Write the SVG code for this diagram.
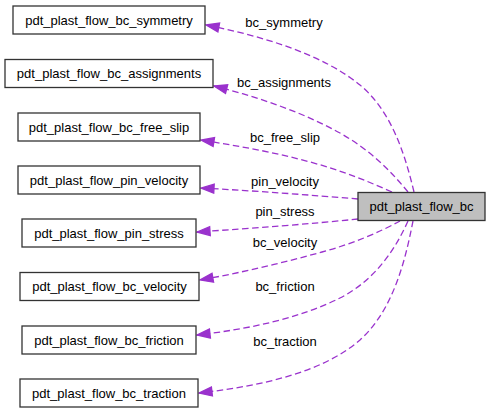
<svg xmlns="http://www.w3.org/2000/svg" width="491" height="413" viewBox="0 0 491 413">
<style>
.node rect{fill:#ffffff;stroke:#333333;stroke-width:1.3}
#main rect{fill:#bfbfbf}
.node text,.lbl text{font-family:"Liberation Sans",Arial,sans-serif;font-size:13px;fill:#000;text-anchor:middle}
.edge{fill:none;stroke:#9a32cd;stroke-width:1.3;stroke-dasharray:6.5,3.5;marker-end:url(#arr)}
</style>
<defs>
<marker id="arr" markerUnits="userSpaceOnUse" markerWidth="16" markerHeight="12" refX="13" refY="5" orient="auto" overflow="visible">
<path d="M0,0.5 L13,5 L0,9.5 z" fill="#9a32cd" stroke="#9a32cd" stroke-width="1.3"/>
</marker>
</defs>
<rect width="491" height="413" fill="#ffffff"/>
<g id="connectors">
<path class="edge" d="M414,192 C404,150 390,110 360,85 C322,54 262,36 206,25"/>
<path class="edge" d="M408,192 C390,170 370,150 340,133 C302,112 258,97 214,86"/>
<path class="edge" d="M392,192 C365,180 340,170 310,162 C274,152 238,146 201,140"/>
<path class="edge" d="M358,199 C310,195 258,191 201,188"/>
<path class="edge" d="M358,219 C310,224 256,228 197,232"/>
<path class="edge" d="M400,221 C380,232 352,244 322,252 C282,263 240,273 200,280"/>
<path class="edge" d="M408,221 C395,250 375,280 340,298 C300,318 250,329 197,335"/>
<path class="edge" d="M413,221 C405,262 393,310 360,340 C322,373 260,386 199,393"/>
</g>
<g class="lbl" id="edge-labels">
<text x="284" y="27">bc_symmetry</text>
<text x="284" y="87">bc_assignments</text>
<text x="285" y="142">bc_free_slip</text>
<text x="285" y="186">pin_velocity</text>
<text x="285" y="216">pin_stress</text>
<text x="285" y="247">bc_velocity</text>
<text x="285" y="291">bc_friction</text>
<text x="285" y="346">bc_traction</text>
</g>
<g class="node" id="main"><rect x="358" y="192.5" width="127" height="28"/><text x="421.5" y="211">pdt_plast_flow_bc</text></g>
<g class="node" id="symmetry"><rect x="13" y="6" width="192" height="28"/><text x="109" y="24.5">pdt_plast_flow_bc_symmetry</text></g>
<g class="node" id="assignments"><rect x="5" y="59.5" width="208" height="28"/><text x="109" y="78">pdt_plast_flow_bc_assignments</text></g>
<g class="node" id="free_slip"><rect x="18" y="113" width="182" height="28"/><text x="109" y="131.5">pdt_plast_flow_bc_free_slip</text></g>
<g class="node" id="pin_velocity"><rect x="18" y="166" width="182" height="28"/><text x="109" y="184.5">pdt_plast_flow_pin_velocity</text></g>
<g class="node" id="pin_stress"><rect x="22" y="219" width="174" height="28"/><text x="109" y="237.5">pdt_plast_flow_pin_stress</text></g>
<g class="node" id="bc_velocity"><rect x="20" y="272.5" width="179" height="28"/><text x="109.5" y="291">pdt_plast_flow_bc_velocity</text></g>
<g class="node" id="friction"><rect x="22" y="326" width="174" height="28"/><text x="109" y="344.5">pdt_plast_flow_bc_friction</text></g>
<g class="node" id="traction"><rect x="20" y="379" width="178" height="28"/><text x="109" y="397.5">pdt_plast_flow_bc_traction</text></g>
</svg>
